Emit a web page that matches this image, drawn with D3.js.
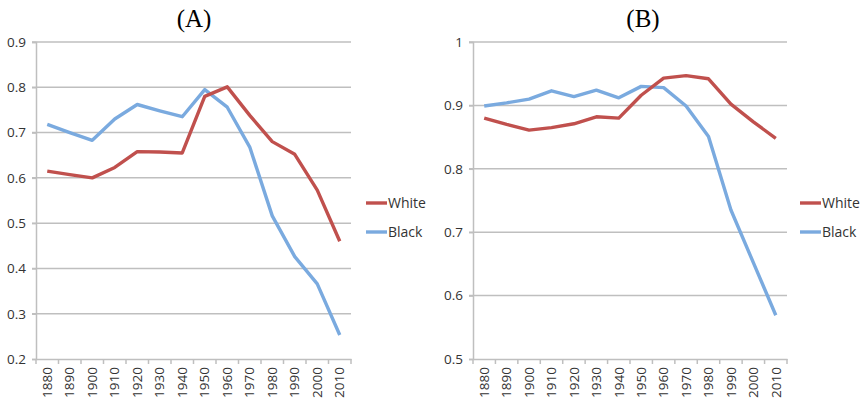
<!DOCTYPE html>
<html>
<head>
<meta charset="utf-8">
<script src="https://cdn.jsdelivr.net/npm/d3@7"></script>
<style>
  body { margin: 0; background: #fff; }
  svg text { font-family: "Open Sans", "Liberation Sans", sans-serif; }
</style>
</head>
<body>
<svg id="chart" width="860" height="402"></svg>
<script>
var years = ["1880", "1890", "1900", "1910", "1920", "1930", "1940", "1950", "1960", "1970", "1980", "1990", "2000", "2010"];

var whiteA = [0.615, 0.607, 0.600, 0.623, 0.658, 0.657, 0.655, 0.780, 0.801, 0.738, 0.680, 0.652, 0.573, 0.460];
var blackA = [0.718, 0.700, 0.683, 0.730, 0.762, 0.748, 0.735, 0.795, 0.756, 0.668, 0.516, 0.426, 0.366, 0.253];

var whiteB = [0.880, 0.870, 0.861, 0.865, 0.871, 0.882, 0.880, 0.916, 0.943, 0.947, 0.942, 0.902, 0.874, 0.848];
var blackB = [0.899, 0.904, 0.910, 0.923, 0.914, 0.924, 0.912, 0.930, 0.928, 0.899, 0.851, 0.735, 0.652, 0.569];

var ticksA = [0.2, 0.3, 0.4, 0.5, 0.6, 0.7, 0.8, 0.9];
var ticksB = [0.5, 0.6, 0.7, 0.8, 0.9, 1];

var seriesNames = ["White", "Black"];
var colors = { White: "#c0504d", Black: "#7aaadf" };

var svg = d3.select("#chart");

function drawPanel(opt) {
    var g = svg.append("g").attr("transform", "translate(" + opt.left + ",42)");
    var width = opt.width, height = 317;

    var x = d3.scaleBand().domain(years).range([0, width]);
    var y = d3.scaleLinear().domain(opt.domain).range([height, 0]);

    // gridlines
    g.selectAll(".grid")
        .data(opt.ticks.slice(1)).enter()
        .append("line")
        .attr("x1", -4).attr("x2", width)
        .attr("y1", function (d) { return y(d); })
        .attr("y2", function (d) { return y(d); })
        .attr("stroke", "#bfbfbf")
        .attr("stroke-width", 1.5);

    // y axis
    var yAxis = d3.axisLeft(y).tickValues(opt.ticks).tickSize(4).tickPadding(6)
        .tickFormat(opt.fmt);
    var ya = g.append("g").call(yAxis);
    ya.select(".domain").attr("stroke", "#bfbfbf").attr("stroke-width", 1.5);
    ya.selectAll(".tick line").attr("stroke", "#bfbfbf").attr("stroke-width", 1.5);
    ya.selectAll("text").attr("fill", "#333").style("font-size", "13.5px");

    // x axis
    var xAxis = d3.axisBottom(x).tickSize(0).tickPadding(9);
    var xa = g.append("g").attr("transform", "translate(0," + height + ")").call(xAxis);
    xa.select(".domain").attr("stroke", "#bfbfbf").attr("stroke-width", 1.5);
    xa.selectAll("text")
        .attr("fill", "#333")
        .style("font-size", "13.5px")
        .attr("text-anchor", "end")
        .attr("dy", "0.35em")
        .attr("transform", "rotate(-90)")
        .attr("x", -8).attr("y", 0);

    // tick marks between categories
    var edges = years.map(function (d) { return x(d); }).concat([width]);
    xa.selectAll(".sep")
        .data(edges).enter()
        .append("line")
        .attr("x1", function (d) { return d; })
        .attr("x2", function (d) { return d; })
        .attr("y1", 0).attr("y2", 5)
        .attr("stroke", "#bfbfbf")
        .attr("stroke-width", 1.5);

    // lines
    var line = d3.line()
        .x(function (d, i) { return x(years[i]) + x.bandwidth() / 2; })
        .y(function (d) { return y(d); });

    var data = { White: opt.white, Black: opt.black };
    ["Black", "White"].forEach(function (name) {
        g.append("path")
            .datum(data[name])
            .attr("d", line)
            .attr("fill", "none")
            .attr("stroke", colors[name])
            .attr("stroke-width", 3.4)
            .attr("stroke-linejoin", "round");
    });

    // title
    svg.append("text")
        .attr("x", opt.titleX).attr("y", 27)
        .attr("text-anchor", "middle")
        .style("font-family", "'Liberation Serif', 'DejaVu Serif', serif")
        .style("font-size", "25px")
        .attr("fill", "#000")
        .text(opt.title);

    // legend
    var leg = svg.append("g").attr("transform", "translate(" + opt.legendX + ",203)");
    seriesNames.forEach(function (name, i) {
        leg.append("line")
            .attr("x1", 0).attr("x2", 21)
            .attr("y1", i * 29).attr("y2", i * 29)
            .attr("stroke", colors[name])
            .attr("stroke-width", 3.4);
        leg.append("text")
            .attr("x", 22).attr("y", i * 29)
            .attr("dy", "0.35em")
            .attr("fill", "#333")
            .style("font-size", "14px")
            .text(name);
    });
}

drawPanel({
    left: 36, width: 315, domain: [0.2, 0.9], ticks: ticksA,
    fmt: d3.format(".1f"), white: whiteA, black: blackA,
    title: "(A)", titleX: 194, legendX: 366
});

drawPanel({
    left: 473, width: 314, domain: [0.5, 1], ticks: ticksB,
    fmt: function (d) { return d === 1 ? "1" : d3.format(".1f")(d); },
    white: whiteB, black: blackB,
    title: "(B)", titleX: 643, legendX: 800
});
</script>
</body>
</html>
